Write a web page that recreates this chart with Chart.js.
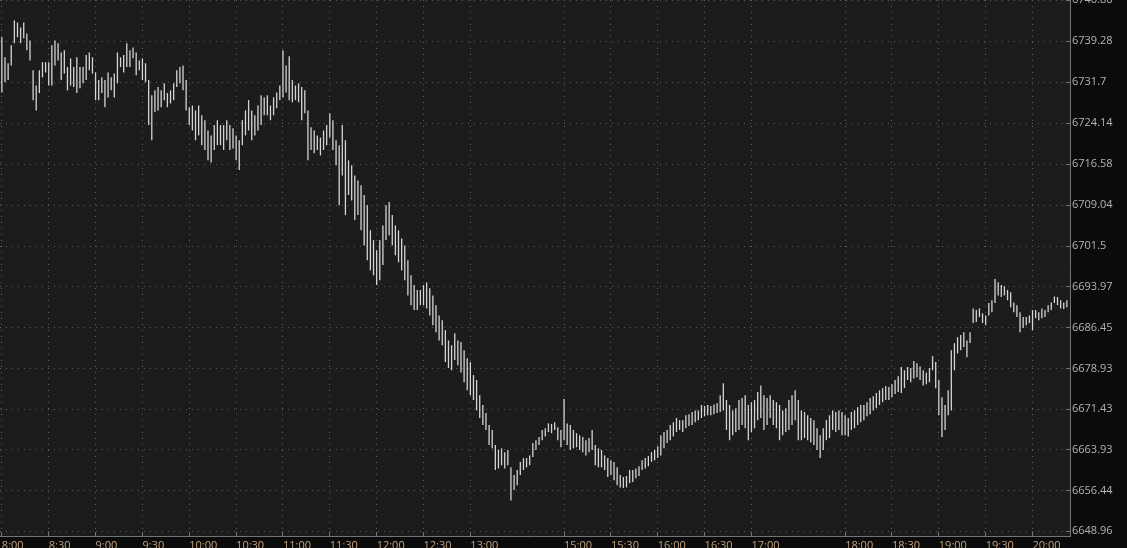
<!DOCTYPE html>
<html>
<head>
<meta charset="utf-8">
<script src="https://cdn.jsdelivr.net/npm/chart.js@4.4.1/dist/chart.umd.min.js"></script>
<style>
  html, body { margin: 0; padding: 0; background: #0b0b0b; overflow: hidden; }
  #wrap { position: absolute; left: 0; top: 0; width: 1127px; height: 556px; }
</style>
</head>
<body>
<div id="wrap"><canvas id="mygraph"></canvas></div>
<script>
// one bar every 2 minutes, starting 8:00
const highs = [
  6740.0, 6736.3, 6735.2, 6738.5, 6743.1, 6742.7, 6741.8, 6742.7, 6740.7, 6739.4,
  6733.9, 6731.1, 6733.9, 6735.4, 6735.4, 6735.4, 6738.5, 6739.4, 6738.9, 6737.2,
  6737.6, 6734.5, 6736.1, 6734.5, 6736.3, 6734.5, 6734.5, 6736.7, 6737.2, 6736.3,
  6733.5, 6732.1, 6732.6, 6732.1, 6733.5, 6732.6, 6733.3, 6737.2, 6736.3, 6736.7,
  6738.9, 6737.6, 6738.1, 6737.2, 6735.7, 6736.1, 6735.2, 6732.1, 6729.3, 6730.2,
  6730.8, 6730.2, 6731.5, 6729.7, 6730.2, 6731.5, 6733.9, 6734.5, 6734.8, 6732.1,
  6727.1, 6727.4, 6726.5, 6727.4, 6725.6, 6724.7, 6722.8, 6721.9, 6723.8, 6724.7,
  6723.8, 6723.8, 6724.7, 6723.8, 6723.2, 6721.9, 6721.0, 6724.7, 6726.5, 6728.4,
  6726.5, 6725.6, 6727.4, 6729.3, 6728.9, 6729.3, 6727.4, 6728.9, 6729.8, 6731.1,
  6737.6, 6734.8, 6736.5, 6732.1, 6731.1, 6731.5, 6730.8, 6730.2, 6726.5, 6723.4,
  6722.8, 6721.9, 6721.5, 6722.8, 6723.8, 6726.0, 6724.7, 6721.0, 6720.1, 6723.8,
  6721.0, 6717.3, 6716.4, 6714.5, 6713.6, 6712.7, 6710.9, 6709.0, 6704.4, 6702.6,
  6700.7, 6702.6, 6705.3, 6709.0, 6709.6, 6707.2, 6705.3, 6704.4, 6702.9, 6701.6,
  6698.9, 6696.1, 6694.3, 6693.4, 6693.4, 6694.3, 6694.8, 6693.7, 6692.4, 6690.6,
  6688.7, 6687.8, 6686.0, 6684.1, 6683.2, 6685.4, 6684.1, 6683.8, 6682.3, 6680.8,
  6680.1, 6677.7, 6676.8, 6674.0, 6672.2, 6670.7, 6668.5, 6667.6, 6664.8, 6663.9,
  6664.2, 6663.5, 6663.9, 6660.7, 6659.3, 6660.2, 6661.7, 6662.4, 6662.4, 6662.9,
  6665.2, 6665.7, 6666.3, 6667.6, 6667.9, 6668.8, 6668.7, 6669.0, 6668.1, 6667.6,
  6673.3, 6668.8, 6668.5, 6667.6, 6667.0, 6666.6, 6666.3, 6665.7, 6666.1, 6667.6,
  6664.8, 6664.2, 6663.9, 6662.9, 6662.4, 6662.0, 6661.7, 6660.7, 6659.3, 6658.9,
  6659.1, 6660.2, 6660.2, 6660.5, 6660.9, 6662.0, 6662.4, 6662.8, 6663.5, 6663.9,
  6664.6, 6666.6, 6667.2, 6667.6, 6668.5, 6669.0, 6669.8, 6669.4, 6669.4, 6670.3,
  6670.5, 6670.9, 6671.2, 6671.2, 6672.2, 6672.0, 6672.2, 6672.0, 6672.3, 6672.5,
  6674.0, 6676.2, 6673.1, 6672.2, 6671.2, 6671.6, 6673.1, 6673.5, 6674.0, 6672.2,
  6672.7, 6673.1, 6674.6, 6675.8, 6674.0, 6673.5, 6674.0, 6673.1, 6672.7, 6672.2,
  6671.2, 6671.6, 6673.1, 6674.0, 6674.9, 6673.1, 6671.2, 6670.9, 6670.3, 6669.8,
  6669.4, 6667.9, 6666.6, 6667.9, 6669.4, 6670.3, 6671.2, 6670.9, 6671.2, 6670.9,
  6670.3, 6669.8, 6670.9, 6671.2, 6671.8, 6672.2, 6672.2, 6672.7, 6673.5, 6673.8,
  6674.4, 6674.9, 6675.3, 6675.7, 6675.5, 6676.0, 6676.8, 6677.5, 6679.2, 6678.6,
  6679.2, 6679.0, 6680.3, 6679.9, 6679.3, 6678.6, 6678.2, 6679.0, 6681.2, 6680.1,
  6676.8, 6673.6, 6672.2, 6674.9, 6682.3, 6683.6, 6684.7, 6685.1, 6685.6, 6684.1,
  6685.6, 6690.0, 6689.7, 6690.0, 6689.1, 6688.7, 6691.0, 6691.5, 6695.4, 6694.8,
  6694.3, 6694.1, 6693.4, 6693.0, 6691.1, 6690.6, 6689.3, 6688.4, 6688.4, 6688.7,
  6689.7, 6689.7, 6689.3, 6690.0, 6689.7, 6690.6, 6691.1, 6692.2, 6692.1, 6691.5,
  6691.1, 6691.5
];
const lows = [
  6729.8, 6731.7, 6732.1, 6734.8, 6738.9, 6740.0, 6738.9, 6739.8, 6737.6, 6735.7,
  6728.4, 6726.5, 6729.7, 6732.6, 6733.5, 6731.1, 6731.1, 6734.8, 6735.7, 6732.1,
  6733.3, 6730.2, 6731.1, 6730.8, 6729.7, 6730.6, 6731.5, 6732.1, 6733.9, 6733.3,
  6728.4, 6728.4, 6729.7, 6727.1, 6728.9, 6730.2, 6728.9, 6731.5, 6734.5, 6733.5,
  6734.5, 6734.5, 6736.1, 6733.0, 6733.9, 6732.1, 6731.7, 6723.8, 6721.0, 6726.2,
  6726.5, 6727.1, 6728.4, 6727.1, 6727.8, 6728.4, 6730.8, 6731.5, 6730.2, 6726.5,
  6723.8, 6722.8, 6721.0, 6721.9, 6720.1, 6719.2, 6717.3, 6716.9, 6719.2, 6720.1,
  6720.1, 6719.2, 6721.0, 6719.2, 6719.5, 6717.3, 6715.5, 6720.1, 6721.9, 6722.8,
  6721.0, 6721.9, 6722.8, 6723.8, 6725.6, 6725.6, 6724.7, 6725.6, 6726.9, 6728.4,
  6728.9, 6729.8, 6728.4, 6728.0, 6728.4, 6728.0, 6724.7, 6726.0, 6717.3, 6719.2,
  6718.6, 6719.2, 6718.2, 6719.2, 6720.1, 6721.5, 6719.2, 6716.4, 6709.0, 6714.5,
  6707.2, 6710.9, 6709.9, 6706.3, 6707.2, 6704.4, 6701.6, 6698.9, 6697.0, 6696.1,
  6694.3, 6695.2, 6698.0, 6702.6, 6703.5, 6701.6, 6699.8, 6698.5, 6697.0, 6695.2,
  6692.4, 6690.6, 6689.7, 6689.7, 6690.6, 6690.6, 6690.0, 6688.7, 6686.9, 6685.6,
  6684.1, 6683.2, 6680.1, 6679.0, 6678.6, 6680.5, 6679.5, 6678.2, 6676.4, 6674.9,
  6674.0, 6673.1, 6671.2, 6669.8, 6668.5, 6667.6, 6664.8, 6664.2, 6660.2, 6660.5,
  6661.1, 6660.5, 6661.1, 6654.6, 6656.5, 6657.4, 6659.3, 6660.2, 6660.7, 6661.1,
  6662.6, 6663.9, 6664.8, 6665.7, 6666.4, 6667.2, 6667.0, 6667.6, 6665.7, 6664.4,
  6665.7, 6664.8, 6663.9, 6664.2, 6664.4, 6663.9, 6663.5, 6662.9, 6663.5, 6663.9,
  6661.1, 6660.7, 6660.7, 6660.2, 6658.9, 6659.3, 6658.3, 6657.4, 6657.0, 6656.9,
  6657.0, 6657.8, 6658.0, 6658.7, 6659.1, 6660.2, 6660.5, 6660.9, 6661.7, 6662.0,
  6662.4, 6662.9, 6664.2, 6665.2, 6665.7, 6666.4, 6667.2, 6667.6, 6667.2, 6667.9,
  6668.3, 6668.5, 6669.0, 6669.4, 6669.8, 6670.1, 6670.3, 6670.3, 6670.5, 6670.7,
  6670.9, 6671.2, 6667.6, 6665.7, 6666.6, 6667.2, 6667.6, 6668.5, 6667.9, 6665.7,
  6667.2, 6667.9, 6669.4, 6669.8, 6667.6, 6668.5, 6669.8, 6668.5, 6667.9, 6665.7,
  6666.6, 6667.2, 6667.6, 6668.5, 6669.4, 6665.7, 6665.7, 6666.1, 6665.7, 6665.3,
  6664.8, 6663.9, 6662.4, 6663.9, 6665.7, 6666.1, 6667.6, 6667.2, 6667.6, 6666.6,
  6666.6, 6666.4, 6667.6, 6667.9, 6668.5, 6669.0, 6669.4, 6670.1, 6670.5, 6671.2,
  6671.6, 6672.2, 6672.7, 6673.1, 6673.1, 6673.6, 6674.2, 6674.6, 6674.4, 6675.3,
  6676.8, 6676.4, 6677.1, 6677.3, 6676.8, 6675.8, 6676.0, 6676.4, 6678.6, 6675.3,
  6670.3, 6666.3, 6667.6, 6670.3, 6671.2, 6678.6, 6681.7, 6682.3, 6682.9, 6681.0,
  6683.6, 6687.3, 6687.5, 6688.4, 6687.3, 6686.9, 6688.7, 6689.3, 6691.0, 6692.4,
  6692.1, 6692.4, 6691.5, 6690.2, 6689.3, 6688.4, 6685.6, 6686.4, 6686.9, 6687.3,
  6686.0, 6688.2, 6687.8, 6688.2, 6688.4, 6689.3, 6689.7, 6691.0, 6690.6, 6690.0,
  6689.9, 6690.2
];

const tickSlots = [0, 15, 30, 45, 60, 75, 90, 105, 120, 135, 150, 180, 195, 210, 225, 240, 270, 285, 300, 315, 330];
const timeLabels = ['8:00', '8:30', '9:00', '9:30', '10:00', '10:30', '11:00', '11:30', '12:00', '12:30', '13:00',
  '15:00', '15:30', '16:00', '16:30', '17:00', '18:00', '18:30', '19:00', '19:30', '20:00'];
const priceTicks = [6746.86, 6739.28, 6731.7, 6724.14, 6716.58, 6709.04, 6701.5, 6693.97,
  6686.45, 6678.93, 6671.43, 6663.93, 6656.44, 6648.96];

Chart.defaults.font.family = 'Open Sans';
Chart.defaults.font.size = 11;

const bgPlugin = {
  id: 'plotBg',
  beforeDraw(chart) {
    const { ctx, chartArea: a } = chart;
    ctx.save();
    ctx.fillStyle = '#1c1c1c';
    ctx.fillRect(a.left, a.top, a.right - a.left, a.bottom - a.top);
    ctx.restore();
  }
};

const gridOpts = { color: '#5e5e5e', lineWidth: 1, drawTicks: true, tickLength: -4, tickColor: '#747474', tickWidth: 1 };
const borderOpts = { display: true, color: '#747474', width: 1, dash: [1, 5] };

const ctx = document.getElementById('mygraph').getContext('2d');
new Chart(ctx, {
  type: 'bar',
  data: {
    datasets: [{
      data: highs.map((h, i) => ({ x: i, y: [lows[i], h] })),
      backgroundColor: '#d4d4d4',
      borderWidth: 0,
      barThickness: 1.3,
      inflateAmount: 0
    }]
  },
  options: {
    responsive: true,
    maintainAspectRatio: false,
    animation: false,
    layout: { padding: 0 },
    plugins: { legend: { display: false }, tooltip: { enabled: false } },
    scales: {
      x: {
        type: 'linear',
        min: -0.6,
        max: 342.0,
        offset: false,
        grid: { ...gridOpts, offset: false },
        border: borderOpts,
        ticks: {
          color: '#c2a27c',
          padding: 7,
          align: 'start',
          autoSkip: false,
          minRotation: 0,
          maxRotation: 0,
          callback: (v, i) => timeLabels[i]
        },
        afterBuildTicks: s => { s.ticks = tickSlots.map(v => ({ value: v })); },
        afterFit: s => { s.height = 20; s.paddingLeft = 0; s.paddingRight = 0; }
      },
      y: {
        position: 'right',
        min: 6648.04,
        max: 6746.86,
        grid: gridOpts,
        border: borderOpts,
        ticks: {
          color: '#b4b4b4',
          padding: 6,
          callback: v => String(v)
        },
        afterBuildTicks: s => { s.ticks = priceTicks.map(v => ({ value: v })); },
        afterFit: s => { s.width = 57; s.paddingTop = 0; s.paddingBottom = 0; }
      }
    }
  },
  plugins: [bgPlugin]
});
</script>
</body>
</html>
